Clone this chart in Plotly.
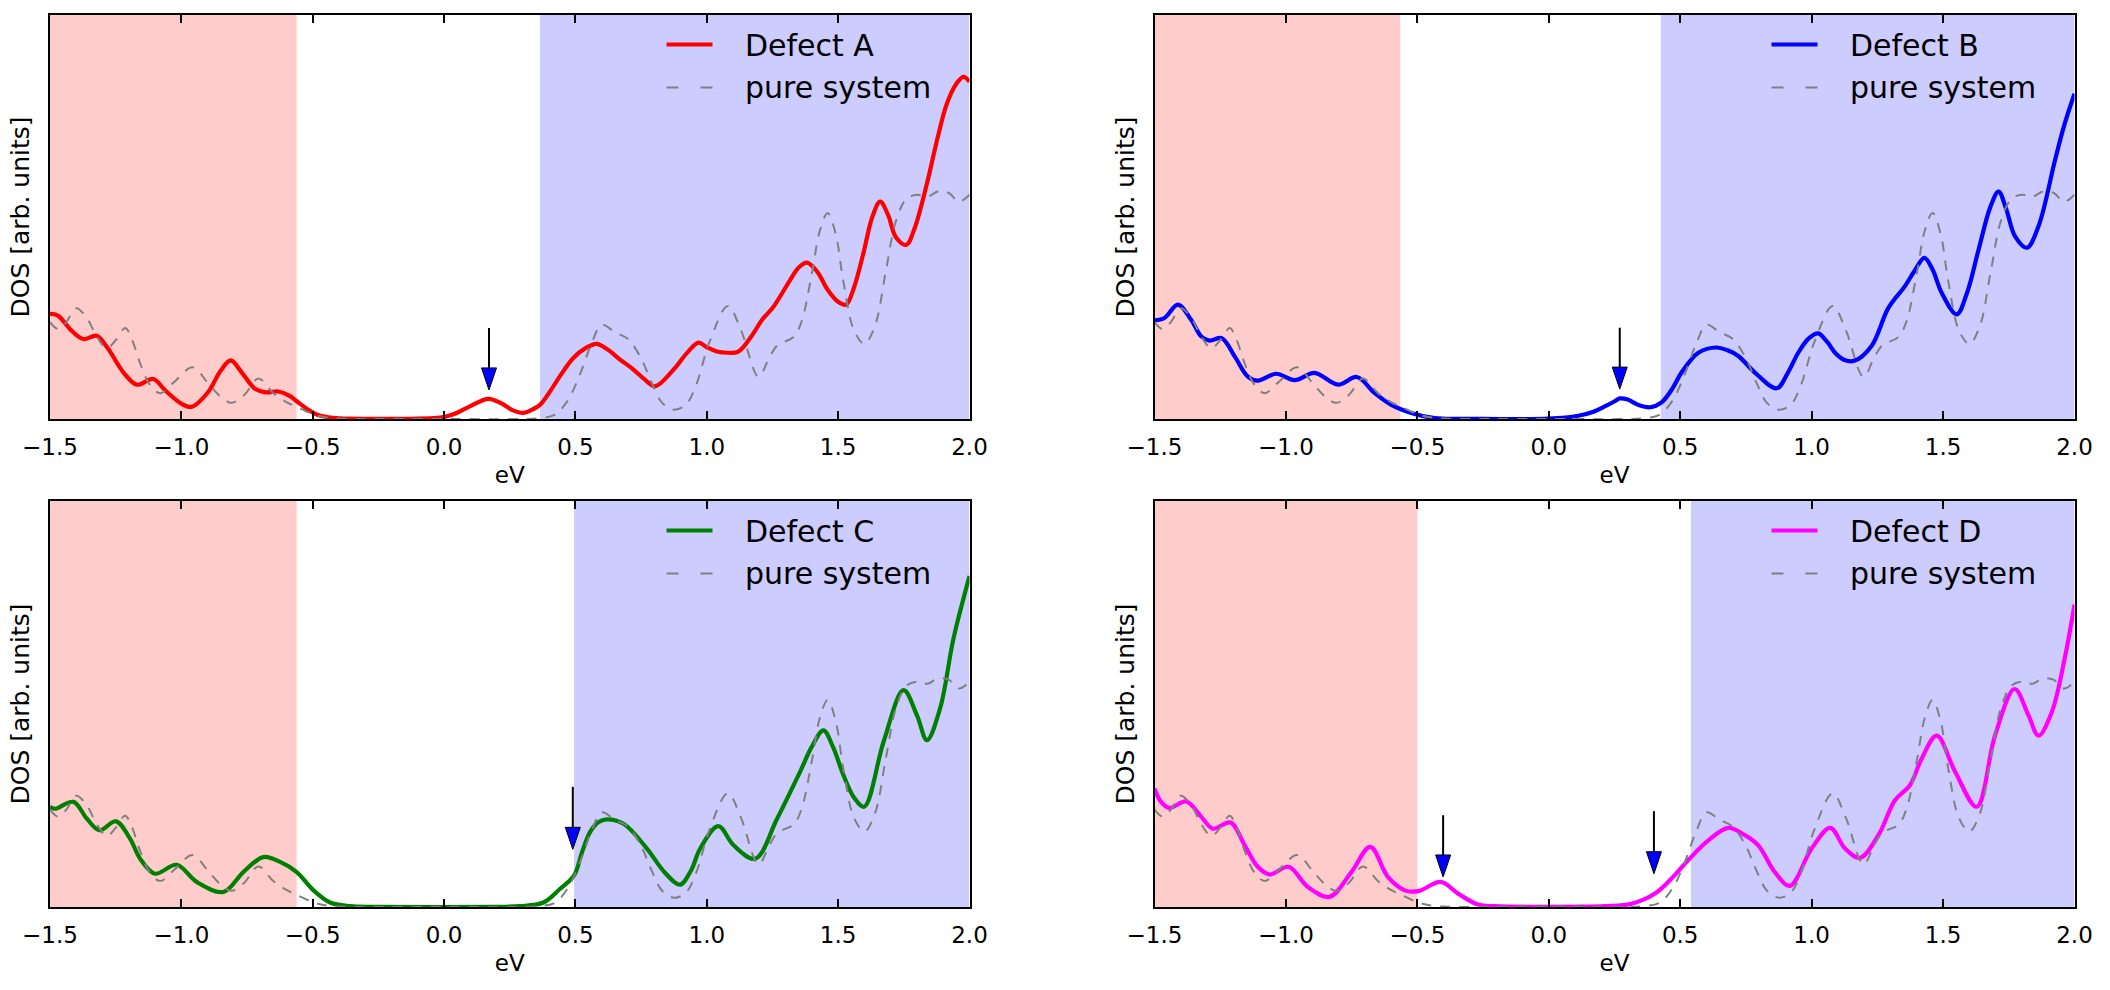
import plotly.graph_objects as go

W, H = 2110, 990

# ---------------- data ----------------
tick_vals = [-1.5, -1.0, -0.5, 0.0, 0.5, 1.0, 1.5, 2.0]
tick_text = ["\u22121.5", "\u22121.0", "\u22120.5", "0.0", "0.5", "1.0", "1.5", "2.0"]

pure_energy = [-1.50, -1.47, -1.44, -1.40, -1.36, -1.32, -1.284, -1.25, -1.214, -1.19, -1.157, -1.12,
               -1.081, -1.03, -0.957, -0.90, -0.85, -0.808, -0.76, -0.707, -0.65, -0.60, -0.561, -0.50,
               -0.459, -0.40, -0.33, 0.0, 0.30, 0.36, 0.42, 0.47, 0.52, 0.56, 0.60, 0.65, 0.70, 0.75,
               0.79, 0.83, 0.875, 0.92, 0.96, 1.01, 1.08, 1.13, 1.197, 1.24, 1.27, 1.33, 1.36, 1.40,
               1.43, 1.46, 1.49, 1.52, 1.56, 1.60, 1.64, 1.68, 1.72, 1.76, 1.80, 1.84, 1.88, 1.92,
               1.96, 2.0]
pure_dos = [24.0, 22.3, 23.8, 27.4, 25.0, 20.2, 17.5, 19.5, 22.5, 20.0, 13.8, 8.5,
            6.4, 9.0, 12.8, 9.0, 5.5, 4.0, 6.0, 10.0, 6.4, 4.2, 3.0, 1.2,
            0.5, 0.1, 0.0, 0.0, 0.0, 0.2, 1.0, 4.5, 11.5, 18.5, 23.3, 21.5, 19.8, 15.0,
            9.0, 4.0, 2.3, 3.5, 8.5, 19.0, 28.0, 22.0, 10.5, 15.5, 18.3, 20.3, 24.0, 36.0,
            46.5, 51.0, 46.0, 34.0, 22.0, 18.6, 23.0, 36.0, 49.0, 54.5, 55.5, 55.0, 56.3, 56.0,
            53.8, 55.5]

energy_A = [-1.50, -1.47, -1.42, -1.373, -1.322, -1.28, -1.22, -1.17, -1.107, -1.06, -1.00, -0.961,
            -0.90, -0.85, -0.812, -0.77, -0.72, -0.68, -0.631, -0.59, -0.561, -0.52, -0.485, -0.44,
            -0.396, -0.30, -0.15, -0.04, 0.0, 0.048, 0.10, 0.169, 0.22, 0.26, 0.302, 0.335, 0.365,
            0.40, 0.44, 0.492, 0.54, 0.581, 0.62, 0.67, 0.714, 0.76, 0.803, 0.873, 0.924, 0.968,
            1.00, 1.038, 1.08, 1.12, 1.17, 1.21, 1.254, 1.29, 1.317, 1.35, 1.381, 1.42, 1.46, 1.50,
            1.53, 1.56, 1.596, 1.63, 1.66, 1.69, 1.72, 1.759, 1.79, 1.838, 1.88, 1.914, 1.95, 1.977,
            2.0]
dos_A = [26.0, 25.6, 22.0, 19.8, 20.6, 17.5, 11.5, 8.5, 9.9, 7.0, 3.8, 3.0,
         6.5, 12.0, 14.5, 11.5, 7.5, 6.6, 6.8, 5.8, 4.4, 2.4, 1.1, 0.4,
         0.16, 0.05, 0.05, 0.2, 0.5, 1.5, 3.2, 5.0, 3.8, 2.2, 1.5, 2.3, 3.5,
         6.5, 10.5, 15.1, 17.6, 18.6, 17.3, 14.7, 12.6, 10.0, 8.1, 12.2, 16.3, 18.9,
         17.8, 16.7, 16.4, 16.7, 20.5, 24.5, 27.8, 31.5, 34.4, 37.5, 38.7, 36.5, 32.0, 29.0,
         28.3, 32.5, 41.0, 50.0, 53.8, 50.5, 45.0, 43.1, 47.0, 58.3, 70.0, 78.1, 83.0, 84.7,
         83.5]

energy_B = [-1.50, -1.462, -1.411, -1.36, -1.322, -1.291, -1.244, -1.195, -1.145, -1.107, -1.037,
            -0.967, -0.891, -0.802, -0.730, -0.662, -0.599, -0.523, -0.434, -0.30, 0.0, 0.112, 0.17,
            0.213, 0.251, 0.27, 0.30, 0.34, 0.385, 0.429, 0.47, 0.505, 0.569, 0.638, 0.68, 0.721,
            0.784, 0.867, 0.91, 0.949, 0.99, 1.025, 1.06, 1.089, 1.125, 1.162, 1.228, 1.292, 1.355,
            1.39, 1.429, 1.46, 1.495, 1.552, 1.59, 1.635, 1.68, 1.711, 1.74, 1.774, 1.819, 1.863,
            1.926, 1.96, 2.0]
dos_B = [24.4, 25.0, 28.3, 24.5, 20.4, 19.4, 20.0, 15.5, 10.5, 9.5, 11.2,
         9.6, 11.4, 8.5, 10.4, 6.4, 3.5, 1.5, 0.2, 0.05, 0.1, 0.8, 1.8,
         3.1, 4.4, 5.1, 4.8, 3.5, 2.9, 4.1, 7.5, 11.5, 16.4, 17.7, 17.0, 15.6,
         11.5, 7.6, 11.5, 16.4, 20.0, 21.2, 19.0, 16.4, 14.6, 14.4, 18.1, 27.5, 32.9,
         36.5, 39.9, 37.0, 31.2, 25.9, 31.0, 41.9, 52.5, 56.3, 52.0, 45.2, 42.4, 47.7,
         64.1, 72.5, 80.5]

energy_C = [-1.50, -1.481, -1.411, -1.36, -1.312, -1.249, -1.195, -1.157, -1.10, -1.018, -0.942,
            -0.840, -0.764, -0.688, -0.624, -0.561, -0.497, -0.434, -0.358, -0.25, 0.20, 0.289,
            0.378, 0.442, 0.495, 0.525, 0.556, 0.587, 0.619, 0.683, 0.772, 0.84, 0.898, 0.94,
            0.975, 1.044, 1.102, 1.184, 1.268, 1.355, 1.40, 1.444, 1.48, 1.52, 1.56, 1.599, 1.673,
            1.749, 1.80, 1.838, 1.888, 1.939, 2.0]
dos_C = [24.7, 24.2, 25.9, 21.8, 18.9, 21.1, 16.8, 11.9, 8.2, 10.4, 6.2,
         3.7, 8.6, 12.3, 11.1, 8.6, 4.1, 1.1, 0.2, 0.05, 0.05, 0.2,
         1.1, 4.5, 7.8, 13.5, 18.5, 20.9, 21.6, 20.5, 14.4, 8.5, 5.5, 9.0,
         14.4, 19.9, 15.2, 11.9, 21.8, 33.3, 39.5, 43.5, 39.5, 32.5, 27.0, 24.7, 40.7,
         53.4, 47.2, 41.1, 48.9, 66.1, 81.5]

energy_D = [-1.50, -1.475, -1.443, -1.379, -1.322, -1.278, -1.211, -1.157, -1.107, -1.062, -0.99,
            -0.916, -0.834, -0.751, -0.679, -0.612, -0.548, -0.497, -0.411, -0.345, -0.269, -0.206,
            0.0, 0.213, 0.315, 0.404, 0.467, 0.53, 0.607, 0.683, 0.746, 0.797, 0.86, 0.917, 1.0,
            1.071, 1.127, 1.184, 1.254, 1.317, 1.374, 1.419, 1.476, 1.546, 1.628, 1.698, 1.772,
            1.825, 1.863, 1.914, 1.965, 2.0]
dos_D = [29.2, 25.9, 24.4, 26.0, 22.2, 19.3, 20.8, 15.2, 9.9, 8.0, 9.9,
         4.9, 2.5, 8.6, 14.8, 7.4, 4.1, 3.9, 6.2, 3.3, 0.6, 0.2,
         0.05, 0.2, 0.8, 3.3, 7.0, 11.5, 16.4, 19.5, 17.7, 15.2, 8.6, 5.2, 14.4,
         19.5, 14.4, 12.1, 17.7, 26.3, 30.0, 36.6, 42.2, 33.3, 24.7, 42.3, 53.7,
         47.2, 42.2, 48.1, 62.0, 74.5]

defect_names = ["Defect A", "Defect B", "Defect C", "Defect D"]
defect_colors = ["#ff0000", "#0000ff", "#008000", "#ff00ff"]
defect_energy = [energy_A, energy_B, energy_C, energy_D]
defect_dos = [dos_A, dos_B, dos_C, dos_D]

# band edges (shaded valence / conduction regions)
vb_edges = [-0.561, -0.565, -0.561, -0.500]
cb_edges = [0.365, 0.426, 0.495, 0.541]

# defect-state arrows
arrow_x = [[0.171], [0.270], [0.490], [-0.402, 0.400]]
arrow_top = [[22.5], [22.6], [29.6], [22.6, 23.6]]
arrow_tip = [[7.2], [7.4], [14.2], [7.4, 8.2]]

x_range = [-1.5, 2.0]
y_range = [0, 100]

# ---------------- layout geometry (pixels) ----------------
boxes = [  # left, top, right, bottom
    (50, 15, 969.5, 419),
    (1154.5, 15, 2074.5, 419),
    (50, 501, 969.5, 907),
    (1154.5, 501, 2074.5, 907),
]

def px_x(v):
    return v / W

def px_y(v):
    return 1 - v / H

TICK_FONT = 23
LEG_FONT = 30
FONT = "DejaVu Sans"

fig = go.Figure()
shapes = []
annotations = []

for i in range(4):
    sfx = "" if i == 0 else str(i + 1)
    xa, ya = "x" + sfx, "y" + sfx
    L, T, R, B = boxes[i]

    fig.add_trace(go.Scatter(
        x=defect_energy[i], y=defect_dos[i], mode="lines",
        line=dict(color=defect_colors[i], width=4.2, shape="spline", smoothing=1.0),
        name=defect_names[i], showlegend=False, xaxis=xa, yaxis=ya))
    fig.add_trace(go.Scatter(
        x=pure_energy, y=pure_dos, mode="lines",
        line=dict(color="gray", width=2, dash="10px,9px", shape="spline", smoothing=1.0),
        name="pure system", showlegend=False, xaxis=xa, yaxis=ya))

    # shaded regions
    shapes.append(dict(type="rect", xref=xa, yref=ya + " domain", x0=x_range[0], x1=vb_edges[i],
                       y0=0, y1=1, fillcolor="rgba(255,0,0,0.2)", line=dict(width=0), layer="below"))
    shapes.append(dict(type="rect", xref=xa, yref=ya + " domain", x0=cb_edges[i], x1=x_range[1],
                       y0=0, y1=1, fillcolor="rgba(0,0,255,0.2)", line=dict(width=0), layer="below"))

    # arrows
    for ax_, at, ap in zip(arrow_x[i], arrow_top[i], arrow_tip[i]):
        shapes.append(dict(type="line", xref=xa, yref=ya, x0=ax_, x1=ax_, y0=at, y1=ap + 3,
                           line=dict(color="black", width=2)))
        shapes.append(dict(type="path", xref=xa, yref=ya, xsizemode="pixel", ysizemode="pixel",
                           xanchor=ax_, yanchor=ap, path="M-7.5,22 L7.5,22 L0,0 Z",
                           fillcolor="#0000ff", line=dict(color="black", width=1)))

    # legend (drawn manually, matplotlib style, no frame)
    lx0, lx1 = R - 303, R - 257
    shapes.append(dict(type="line", xref="paper", yref="paper", x0=px_x(lx0), x1=px_x(lx1),
                       y0=px_y(T + 29.5), y1=px_y(T + 29.5),
                       line=dict(color=defect_colors[i], width=4.2)))
    shapes.append(dict(type="line", xref="paper", yref="paper", x0=px_x(lx0), x1=px_x(lx1),
                       y0=px_y(T + 72.5), y1=px_y(T + 72.5),
                       line=dict(color="gray", width=2, dash="12px,22px")))
    for txt, base in ((defect_names[i], T + 40.5), ("pure system", T + 82.5)):
        annotations.append(dict(text=txt, xref="paper", yref="paper", x=px_x(R - 227),
                                y=px_y(base - 0.346 * LEG_FONT), xanchor="left", yanchor="middle",
                                showarrow=False, font=dict(family=FONT, size=LEG_FONT, color="black")))

    fig.layout["xaxis" + sfx] = dict(
        domain=[px_x(L), px_x(R)], anchor=ya, range=x_range, automargin=False,
        tickmode="array", tickvals=tick_vals, ticktext=tick_text,
        ticks="inside", ticklen=8, tickwidth=1.5, tickcolor="black",
        showline=True, linecolor="black", linewidth=2, mirror="ticks",
        showgrid=False, zeroline=False, ticklabelstandoff=6,
        tickfont=dict(family=FONT, size=TICK_FONT, color="black"),
        title=dict(text="eV", font=dict(family=FONT, size=TICK_FONT, color="black"), standoff=8),
    )
    fig.layout["yaxis" + sfx] = dict(
        domain=[px_y(B), px_y(T)], anchor=xa, range=y_range, automargin=False,
        showticklabels=False, ticks="", showline=True, linecolor="black", linewidth=2,
        mirror=True, showgrid=False, zeroline=False,
        title=dict(text="DOS [arb. units]", font=dict(family=FONT, size=25, color="black"),
                   standoff=11),
    )

fig.update_layout(
    width=W, height=H,
    margin=dict(l=0, r=0, t=0, b=0, autoexpand=False),
    paper_bgcolor="white", plot_bgcolor="white",
    shapes=shapes, annotations=annotations,
    showlegend=False,
    font=dict(family=FONT, color="black"),
)

fig.write_html("out.html")
